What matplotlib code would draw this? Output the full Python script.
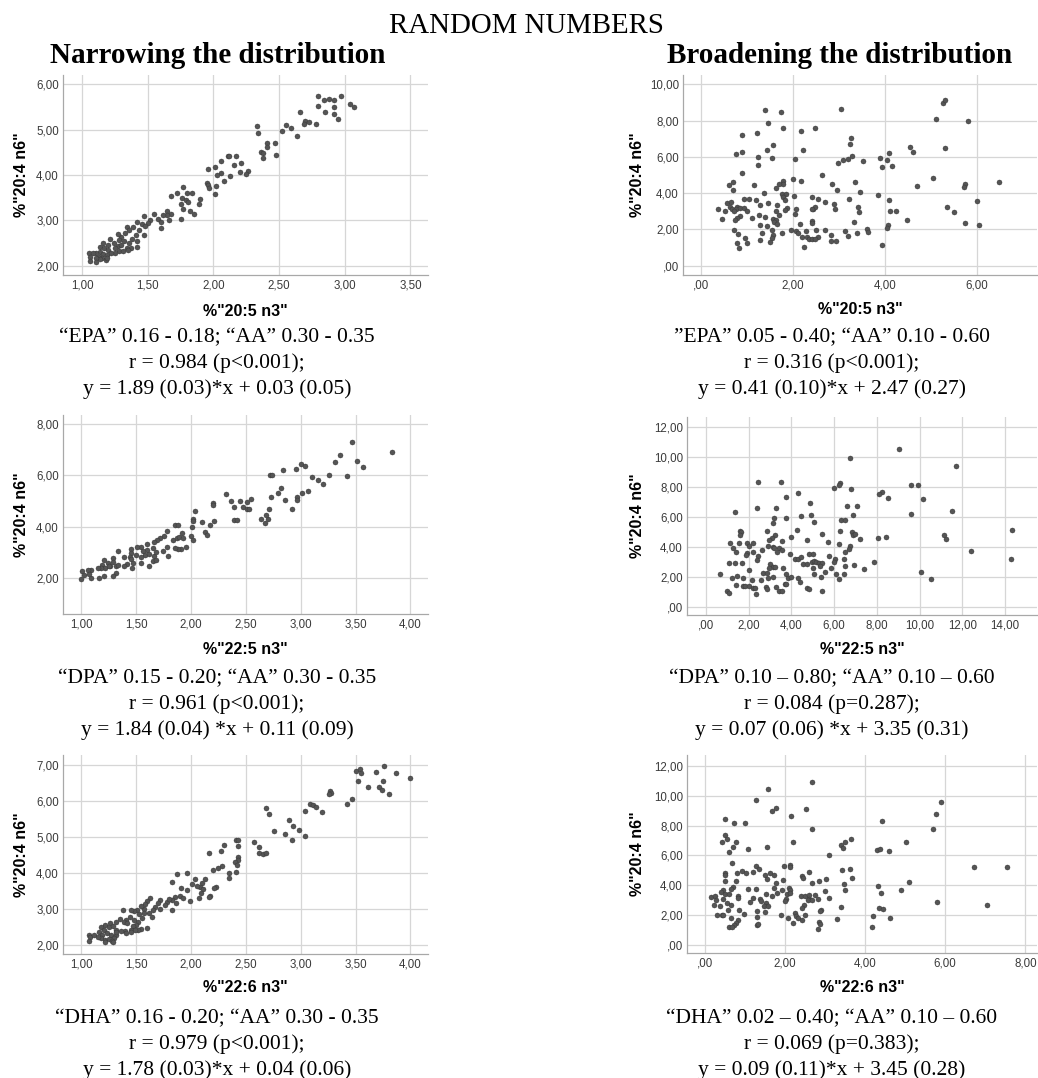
import matplotlib
matplotlib.use('Agg')
import matplotlib.pyplot as plt
from matplotlib.ticker import FuncFormatter

W, H = 1038, 1078

# ---- data, one list of (x, y) points per panel ----
epa_narrow = [
    (2.80, 5.74), (2.97, 5.75), (2.84, 5.65), (2.88, 5.68), (2.92, 5.65), (2.80, 5.53), (2.92, 5.51), (3.04, 5.57),
    (3.07, 5.49), (2.85, 5.38), (2.92, 5.34), (2.95, 5.23), (2.66, 5.39), (2.70, 5.20), (2.73, 5.18), (2.69, 5.13),
    (2.78, 5.13), (2.33, 5.08), (2.34, 4.93), (2.55, 5.10), (2.59, 5.04), (2.52, 4.96), (2.64, 4.85), (2.41, 4.70),
    (2.47, 4.71), (2.41, 4.62), (2.36, 4.51), (2.38, 4.49), (2.38, 4.38), (2.48, 4.44), (2.11, 4.43), (2.12, 4.43),
    (2.17, 4.42), (2.06, 4.30), (2.21, 4.26), (2.16, 4.22), (1.96, 4.13), (2.01, 4.18), (2.20, 4.07), (2.26, 4.08),
    (2.25, 4.02), (2.06, 4.04), (2.03, 3.99), (2.13, 3.98), (2.08, 3.86), (1.95, 3.82), (1.96, 3.77), (2.02, 3.76),
    (1.97, 3.71), (2.01, 3.57), (1.77, 3.73), (1.72, 3.61), (1.68, 3.54), (1.80, 3.61), (1.84, 3.60), (1.76, 3.49),
    (1.79, 3.45), (1.90, 3.47), (1.81, 3.40), (1.75, 3.35), (1.89, 3.36), (1.77, 3.26), (1.82, 3.21), (1.85, 3.15),
    (1.65, 3.21), (1.68, 3.15), (1.65, 3.12), (1.75, 3.03), (1.66, 3.01), (1.62, 3.12), (1.55, 3.15), (1.58, 3.04),
    (1.60, 2.97), (1.60, 2.84), (1.52, 3.01), (1.47, 3.10), (1.50, 2.95), (1.42, 2.97), (1.46, 2.92), (1.48, 2.88),
    (1.39, 2.86), (1.34, 2.86), (1.36, 2.79), (1.43, 2.79), (1.41, 2.68), (1.47, 2.68), (1.38, 2.58), (1.42, 2.55),
    (1.33, 2.71), (1.30, 2.63), (1.27, 2.69), (1.28, 2.57), (1.32, 2.55), (1.36, 2.51), (1.24, 2.49), (1.27, 2.43),
    (1.30, 2.46), (1.34, 2.38), (1.37, 2.38), (1.42, 2.42), (1.25, 2.38), (1.28, 2.33), (1.31, 2.33), (1.35, 2.35),
    (1.21, 2.58), (1.20, 2.46), (1.16, 2.51), (1.14, 2.42), (1.17, 2.38), (1.20, 2.35), (1.25, 2.29), (1.14, 2.31),
    (1.11, 2.27), (1.16, 2.26), (1.19, 2.24), (1.13, 2.20), (1.15, 2.16), (1.18, 2.12), (1.14, 2.14), (1.05, 2.27),
    (1.08, 2.27), (1.06, 2.20), (1.06, 2.11), (1.11, 2.16), (1.19, 2.18), (1.22, 2.27), (1.11, 2.09),
]

epa_broad = [
    (1.39, 8.58), (1.75, 8.49), (3.05, 8.66), (1.46, 7.89), (1.80, 7.61), (2.48, 7.59), (2.18, 7.44), (0.90, 7.21),
    (1.23, 7.33), (5.27, 8.99), (5.32, 9.12), (5.11, 8.11), (5.82, 8.00), (3.26, 7.06), (3.25, 6.73), (1.57, 6.67),
    (1.45, 6.38), (2.23, 6.36), (5.30, 6.47), (4.55, 6.53), (4.61, 6.29), (4.10, 6.23), (0.90, 6.25), (0.76, 6.18),
    (1.24, 5.99), (1.55, 5.92), (2.05, 5.90), (3.29, 6.07), (3.10, 5.85), (3.21, 5.86), (3.90, 5.92), (4.05, 5.85),
    (3.52, 5.77), (2.99, 5.64), (4.15, 5.50), (3.95, 5.42), (1.25, 5.53), (0.90, 5.13), (2.64, 4.98), (5.06, 4.83),
    (2.00, 4.78), (2.18, 4.65), (1.80, 4.67), (1.80, 4.49), (1.70, 4.49), (3.35, 4.61), (2.85, 4.52), (5.74, 4.49),
    (5.72, 4.36), (6.48, 4.60), (4.71, 4.41), (1.17, 4.43), (0.61, 4.43), (0.70, 4.61), (0.70, 4.19), (1.64, 4.26),
    (2.96, 4.19), (3.46, 4.06), (1.37, 4.01), (1.77, 3.95), (1.86, 3.97), (2.02, 3.86), (3.86, 3.92), (2.41, 3.79),
    (2.55, 3.69), (1.79, 3.79), (0.94, 3.69), (1.05, 3.69), (1.84, 3.60), (1.21, 3.62), (3.22, 3.66), (4.10, 3.64),
    (6.00, 3.57), (2.71, 3.49), (0.57, 3.47), (0.67, 3.49), (1.47, 3.46), (2.90, 3.42), (1.28, 3.36), (1.67, 3.35),
    (0.64, 3.25), (3.43, 3.24), (5.35, 3.22), (0.79, 3.24), (0.69, 3.14), (0.76, 3.11), (0.85, 3.20), (0.94, 3.16),
    (1.87, 3.18), (2.44, 3.14), (2.48, 3.25), (2.93, 3.13), (2.41, 3.11), (2.08, 3.13), (0.38, 3.11), (0.53, 3.01),
    (0.72, 3.01), (1.01, 3.00), (1.63, 3.03), (1.84, 3.07), (3.44, 2.98), (4.11, 3.00), (4.25, 3.01), (5.51, 2.94),
    (2.06, 2.83), (0.85, 2.72), (1.26, 2.79), (1.70, 2.79), (1.39, 2.67), (1.11, 2.65), (0.79, 2.61), (0.46, 2.57),
    (0.74, 2.52), (1.58, 2.57), (1.64, 2.52), (4.48, 2.54), (1.60, 2.43), (2.41, 2.46), (2.42, 2.37), (3.33, 2.43),
    (1.66, 2.30), (2.16, 2.30), (5.74, 2.37), (1.29, 2.22), (6.05, 2.26), (1.44, 2.19), (4.08, 2.22), (4.05, 2.06),
    (0.72, 1.95), (1.97, 1.97), (2.07, 1.93), (2.30, 1.93), (2.51, 1.99), (2.70, 1.95), (1.55, 1.97), (3.62, 2.00),
    (3.13, 1.91), (3.64, 1.86), (0.82, 1.73), (1.33, 1.82), (1.77, 1.80), (2.12, 1.78), (3.39, 1.78), (2.21, 1.60),
    (2.31, 1.60), (2.56, 1.58), (2.83, 1.67), (3.21, 1.65), (1.57, 1.69), (2.36, 1.49), (2.41, 1.49), (2.49, 1.49),
    (0.96, 1.53), (1.30, 1.42), (1.55, 1.51), (2.83, 1.34), (2.94, 1.36), (1.51, 1.31), (0.79, 1.25), (1.01, 1.23),
    (0.83, 0.99), (2.25, 1.05), (3.94, 1.12),
]

dpa_narrow = [
    (3.83, 6.90), (3.47, 7.32), (3.36, 6.81), (3.51, 6.55), (3.57, 6.35), (3.31, 6.51), (3.26, 6.03), (3.42, 5.99),
    (3.16, 5.81), (3.20, 5.65), (3.10, 5.96), (2.96, 6.26), (3.00, 6.43), (3.04, 6.38), (2.84, 6.22), (2.72, 6.01),
    (2.74, 6.00), (3.07, 5.40), (3.01, 5.31), (2.97, 5.18), (2.97, 5.03), (2.92, 4.70), (2.86, 5.04), (2.82, 5.51),
    (2.79, 5.31), (2.73, 5.18), (2.71, 4.70), (2.70, 4.30), (2.68, 4.47), (2.67, 4.14), (2.64, 4.32), (2.32, 5.29),
    (2.36, 5.01), (2.45, 5.01), (2.51, 4.96), (2.55, 5.09), (2.39, 4.79), (2.47, 4.77), (2.51, 4.69), (2.53, 4.69),
    (2.39, 4.25), (2.42, 4.27), (2.20, 4.92), (2.20, 4.84), (2.04, 4.60), (2.02, 4.30), (2.02, 4.23), (2.10, 4.17),
    (2.21, 4.21), (2.17, 4.05), (2.01, 3.99), (2.13, 3.78), (2.15, 3.66), (2.00, 3.65), (2.02, 3.49), (1.85, 4.05),
    (1.88, 4.05), (1.78, 3.84), (1.75, 3.65), (1.72, 3.56), (1.69, 3.49), (1.84, 3.49), (1.87, 3.56), (1.89, 3.62),
    (1.92, 3.75), (1.93, 3.56), (1.95, 3.23), (1.91, 3.13), (1.88, 3.13), (1.85, 3.19), (1.78, 3.23), (1.79, 2.87),
    (1.74, 3.04), (1.66, 3.39), (1.65, 3.17), (1.60, 3.34), (1.60, 3.10), (1.54, 3.23), (1.51, 3.21), (1.56, 3.04),
    (1.58, 2.91), (1.62, 2.94), (1.66, 2.87), (1.68, 3.00), (1.62, 2.45), (1.65, 2.65), (1.68, 2.71), (1.54, 2.82),
    (1.50, 2.91), (1.54, 2.58), (1.45, 3.13), (1.45, 2.97), (1.44, 2.84), (1.45, 2.74), (1.47, 2.58), (1.46, 2.39),
    (1.42, 2.55), (1.39, 2.84), (1.39, 2.45), (1.33, 3.04), (1.29, 2.78), (1.29, 2.61), (1.32, 2.45), (1.33, 2.52),
    (1.26, 2.45), (1.21, 2.69), (1.19, 2.52), (1.22, 2.39), (1.24, 2.58), (1.32, 2.19), (1.29, 2.06), (1.18, 2.39),
    (1.15, 2.39), (1.21, 2.06), (1.16, 2.00), (1.09, 2.30), (1.06, 2.32), (1.09, 2.00), (1.01, 2.26), (1.02, 2.13),
    (1.00, 1.96), (1.07, 2.16), (1.25, 2.48),
]

dpa_broad = [
    (9.03, 10.54), (6.72, 9.90), (11.69, 9.41), (2.45, 8.32), (3.49, 8.32), (6.29, 8.28), (6.22, 8.15), (6.01, 7.95),
    (6.78, 7.84), (9.61, 8.12), (9.92, 8.17), (8.24, 7.68), (8.08, 7.57), (8.52, 7.24), (10.17, 7.22), (4.33, 7.62),
    (3.74, 7.37), (4.86, 6.97), (2.38, 6.62), (3.29, 6.58), (6.61, 6.77), (7.06, 6.73), (1.37, 6.31), (11.49, 6.44),
    (9.61, 6.18), (4.44, 6.09), (4.93, 6.13), (6.88, 6.13), (3.20, 5.93), (3.74, 5.93), (6.30, 5.78), (6.52, 5.80),
    (5.06, 5.67), (3.12, 5.58), (2.84, 5.11), (4.28, 5.16), (1.58, 5.09), (1.64, 4.98), (1.58, 4.80), (3.24, 4.80),
    (5.45, 4.91), (6.29, 5.05), (6.83, 4.98), (6.89, 4.78), (6.98, 4.91), (11.13, 4.83), (11.22, 4.52), (14.34, 5.16),
    (8.04, 4.58), (8.44, 4.65), (7.19, 4.52), (4.00, 4.69), (3.09, 4.61), (2.97, 4.47), (4.72, 4.47), (5.70, 4.34),
    (3.55, 4.38), (1.13, 4.25), (1.57, 4.25), (1.91, 4.25), (2.22, 4.25), (2.02, 4.10), (1.29, 3.92), (3.15, 4.03),
    (3.40, 3.96), (6.22, 4.21), (6.72, 4.07), (6.69, 3.85), (2.92, 4.10), (1.40, 3.65), (1.91, 3.59), (1.89, 3.48),
    (2.19, 3.70), (2.45, 3.41), (2.64, 3.81), (3.20, 3.92), (3.31, 3.70), (3.54, 3.81), (6.49, 3.65), (12.40, 3.76),
    (2.40, 3.14), (3.94, 3.54), (4.83, 3.52), (5.01, 3.54), (5.74, 3.41), (6.04, 3.23), (14.29, 3.23), (4.18, 3.23),
    (4.33, 3.21), (4.47, 3.32), (1.10, 2.92), (1.38, 2.97), (1.68, 2.92), (4.52, 2.86), (4.73, 2.88), (4.95, 3.03),
    (5.06, 3.06), (5.17, 3.01), (5.29, 2.92), (5.45, 2.97), (6.01, 2.99), (6.47, 3.19), (7.85, 2.99), (3.00, 2.86),
    (3.12, 2.70), (3.23, 2.70), (2.95, 2.59), (3.62, 2.63), (5.35, 2.75), (5.87, 2.59), (6.52, 2.75), (6.92, 2.81),
    (7.40, 2.57), (5.01, 2.59), (2.00, 2.48), (2.69, 2.30), (2.87, 2.26), (5.56, 2.35), (0.67, 2.19), (1.47, 2.10),
    (5.06, 2.19), (6.10, 2.21), (6.47, 2.21), (10.06, 2.37), (1.20, 1.95), (1.74, 1.93), (2.14, 1.84), (2.59, 1.79),
    (2.92, 1.93), (3.15, 1.99), (3.77, 2.21), (3.86, 1.93), (3.96, 1.99), (4.30, 1.93), (4.39, 1.70), (5.40, 2.01),
    (6.22, 1.88), (10.51, 1.88), (1.40, 1.48), (1.74, 1.44), (1.83, 1.44), (2.00, 1.44), (3.69, 1.55), (3.77, 1.57),
    (3.26, 1.37), (2.81, 1.33), (2.84, 1.20), (2.19, 1.26), (2.30, 1.26), (3.43, 1.08), (3.54, 1.11), (4.73, 1.31),
    (4.80, 1.20), (5.42, 1.08), (0.98, 1.11), (1.09, 0.97), (2.34, 0.89),
]

dha_narrow = [
    (3.76, 6.98), (3.50, 6.83), (3.54, 6.90), (3.55, 6.77), (3.69, 6.80), (3.87, 6.79), (4.00, 6.65), (3.52, 6.55),
    (3.75, 6.56), (3.61, 6.38), (3.71, 6.39), (3.74, 6.30), (3.80, 6.21), (3.27, 6.29), (3.28, 6.22), (3.26, 6.19),
    (3.47, 6.07), (3.42, 5.93), (3.08, 5.92), (3.11, 5.90), (3.14, 5.85), (3.04, 5.72), (3.19, 5.70), (2.68, 5.81),
    (2.71, 5.63), (2.89, 5.48), (2.93, 5.32), (2.98, 5.20), (2.76, 5.16), (2.86, 5.09), (3.04, 5.04), (2.92, 4.91),
    (2.41, 4.92), (2.43, 4.91), (2.57, 4.88), (2.62, 4.73), (2.62, 4.56), (2.66, 4.53), (2.68, 4.57), (2.43, 4.76),
    (2.30, 4.79), (2.27, 4.62), (2.16, 4.56), (2.43, 4.44), (2.43, 4.37), (2.40, 4.31), (2.42, 4.23), (2.41, 4.03),
    (2.28, 4.19), (2.25, 4.14), (2.20, 4.09), (2.35, 4.00), (2.35, 3.88), (1.96, 4.00), (1.87, 3.99), (1.83, 3.77),
    (2.13, 3.85), (2.04, 3.85), (2.10, 3.74), (2.01, 3.71), (2.08, 3.63), (2.05, 3.66), (2.23, 3.63), (2.21, 3.58),
    (2.11, 3.57), (1.91, 3.59), (1.96, 3.54), (2.09, 3.45), (2.07, 3.31), (2.17, 3.37), (2.16, 3.33), (1.90, 3.38),
    (1.93, 3.31), (1.99, 3.22), (1.85, 3.34), (1.86, 3.17), (1.83, 3.26), (1.78, 3.21), (1.80, 3.29), (1.83, 2.97),
    (1.76, 3.13), (1.72, 3.26), (1.70, 3.17), (1.72, 3.01), (1.67, 3.06), (1.63, 3.31), (1.60, 3.22), (1.58, 3.15),
    (1.65, 2.99), (1.62, 2.89), (1.64, 2.80), (1.57, 3.01), (1.57, 2.89), (1.54, 3.10), (1.51, 2.99), (1.48, 2.94),
    (1.53, 2.87), (1.55, 2.76), (1.60, 2.48), (1.54, 2.45), (1.52, 2.43), (1.45, 2.97), (1.38, 2.97), (1.41, 2.71),
    (1.44, 2.80), (1.48, 2.71), (1.52, 2.66), (1.50, 2.57), (1.47, 2.53), (1.35, 2.73), (1.32, 2.66), (1.39, 2.64),
    (1.42, 2.62), (1.45, 2.43), (1.49, 2.42), (1.40, 2.39), (1.36, 2.41), (1.41, 2.34), (1.45, 2.37), (1.26, 2.62),
    (1.22, 2.57), (1.25, 2.50), (1.29, 2.53), (1.32, 2.43), (1.18, 2.50), (1.21, 2.43), (1.16, 2.37), (1.19, 2.30),
    (1.23, 2.34), (1.27, 2.30), (1.32, 2.30), (1.18, 2.20), (1.22, 2.16), (1.25, 2.18), (1.30, 2.20), (1.28, 2.13),
    (1.29, 2.08), (1.22, 2.09), (1.07, 2.30), (1.08, 2.23), (1.07, 2.13), (1.12, 2.30), (1.15, 2.23), (1.32, 2.37),
]

dha_broad = [
    (2.67, 10.93), (1.58, 10.42), (1.27, 9.71), (1.77, 9.16), (1.67, 9.00), (2.54, 9.11), (5.90, 9.60), (5.76, 8.76),
    (5.69, 7.80), (4.42, 8.31), (2.16, 8.64), (0.52, 8.47), (0.73, 8.20), (1.00, 8.20), (2.69, 7.76), (0.51, 7.40),
    (0.57, 7.13), (0.43, 6.91), (0.79, 6.93), (2.20, 6.89), (5.02, 6.93), (3.66, 7.07), (3.50, 6.93), (3.41, 6.69),
    (3.44, 6.53), (1.55, 6.60), (0.70, 6.58), (1.07, 6.44), (4.30, 6.38), (4.38, 6.42), (4.59, 6.31), (0.61, 6.22),
    (3.09, 6.04), (0.68, 5.47), (1.27, 5.27), (1.36, 5.13), (1.99, 5.27), (2.14, 5.36), (2.14, 5.20), (0.92, 4.98),
    (1.20, 4.89), (0.80, 4.80), (1.04, 4.82), (0.51, 4.80), (0.52, 4.69), (1.62, 4.84), (1.51, 4.73), (1.72, 4.71),
    (2.60, 4.87), (2.43, 4.64), (2.45, 4.49), (3.42, 5.04), (3.63, 5.07), (3.67, 4.53), (3.03, 4.44), (1.55, 4.44),
    (0.52, 4.27), (0.79, 4.27), (1.96, 4.38), (2.84, 4.31), (2.67, 4.16), (1.79, 4.18), (3.48, 4.13), (5.09, 4.22),
    (4.32, 3.98), (6.72, 5.22), (7.55, 5.20), (0.70, 3.93), (0.66, 3.78), (1.08, 3.76), (1.29, 3.78), (1.74, 3.82),
    (2.10, 3.80), (2.12, 3.71), (1.92, 3.67), (3.00, 3.64), (3.49, 3.67), (4.90, 3.71), (0.46, 3.67), (0.41, 3.56),
    (0.52, 3.42), (0.61, 3.42), (1.52, 3.44), (1.81, 3.49), (2.06, 3.44), (2.13, 3.49), (1.67, 3.31), (2.41, 3.27),
    (2.50, 3.31), (2.60, 3.36), (2.76, 3.38), (4.40, 3.49), (0.17, 3.20), (0.27, 3.27), (0.84, 3.27), (0.83, 3.16),
    (1.20, 3.16), (1.37, 3.11), (2.03, 3.09), (2.61, 3.11), (2.82, 3.09), (3.09, 3.13), (0.46, 3.09), (0.29, 3.04),
    (1.41, 2.98), (2.01, 2.98), (2.58, 3.00), (2.68, 3.04), (1.12, 2.89), (1.53, 2.82), (5.80, 2.91), (0.56, 2.80),
    (0.66, 2.67), (0.23, 2.67), (0.38, 2.64), (1.48, 2.64), (1.57, 2.60), (2.47, 2.69), (7.05, 2.67), (3.40, 2.56),
    (2.42, 2.51), (4.36, 2.49), (4.44, 2.40), (0.59, 2.33), (0.85, 2.33), (2.90, 2.36), (2.88, 2.31), (1.31, 2.27),
    (1.51, 2.20), (0.98, 2.09), (2.26, 2.13), (0.30, 2.00), (0.44, 2.02), (0.47, 2.00), (1.91, 2.00), (2.50, 2.04),
    (2.29, 1.98), (4.20, 1.96), (1.30, 1.89), (0.65, 1.80), (2.08, 1.80), (2.33, 1.84), (2.44, 1.71), (3.30, 1.78),
    (4.63, 1.80), (0.83, 1.67), (0.79, 1.49), (2.20, 1.51), (2.84, 1.56), (2.88, 1.44), (0.74, 1.38), (0.61, 1.22),
    (0.67, 1.22), (1.31, 1.33), (1.33, 1.42), (4.17, 1.22), (2.83, 1.09),
]

x_labels = ['%"20:5 n3"', '%"20:5 n3"', '%"22:5 n3"', '%"22:5 n3"', '%"22:6 n3"', '%"22:6 n3"']
y_label = '%"20:4 n6"'

x_ticks = [[1.0, 1.5, 2.0, 2.5, 3.0, 3.5], [0, 2, 4, 6],
           [1.0, 1.5, 2.0, 2.5, 3.0, 3.5, 4.0], [0, 2, 4, 6, 8, 10, 12, 14],
           [1.0, 1.5, 2.0, 2.5, 3.0, 3.5, 4.0], [0, 2, 4, 6, 8]]
y_ticks = [[2, 3, 4, 5, 6], [0, 2, 4, 6, 8, 10],
           [2, 4, 6, 8], [0, 2, 4, 6, 8, 10, 12],
           [2, 3, 4, 5, 6, 7], [0, 2, 4, 6, 8, 10, 12]]

captions = [
    ['\u201cEPA\u201d 0.16 - 0.18; \u201cAA\u201d 0.30 - 0.35', 'r = 0.984 (p<0.001);', 'y = 1.89 (0.03)*x + 0.03 (0.05)'],
    ['\u201dEPA\u201d 0.05 - 0.40; \u201cAA\u201d 0.10 - 0.60', 'r = 0.316 (p<0.001);', 'y = 0.41 (0.10)*x + 2.47 (0.27)'],
    ['\u201cDPA\u201d 0.15 - 0.20; \u201cAA\u201d 0.30 - 0.35', 'r = 0.961 (p<0.001);', 'y = 1.84 (0.04) *x + 0.11 (0.09)'],
    ['\u201cDPA\u201d 0.10 \u2013 0.80; \u201cAA\u201d 0.10 \u2013 0.60', 'r = 0.084 (p=0.287);', 'y = 0.07 (0.06) *x + 3.35 (0.31)'],
    ['\u201cDHA\u201d 0.16 - 0.20; \u201cAA\u201d 0.30 - 0.35', 'r = 0.979 (p<0.001);', 'y = 1.78 (0.03)*x + 0.04 (0.06)'],
    ['\u201cDHA\u201d 0.02 \u2013 0.40; \u201cAA\u201d 0.10 \u2013 0.60', 'r = 0.069 (p=0.383);', 'y = 0.09 (0.11)*x + 3.45 (0.28)'],
]

panels = [epa_narrow, epa_broad, dpa_narrow, dpa_broad, dha_narrow, dha_broad]

# layout in pixels: (left, top, right, bottom) and axis limits
boxes = [(63, 75, 428, 275), (683, 75, 1037, 275),
         (63, 415, 428, 614), (687, 417, 1037, 615),
         (63, 755, 428, 954), (687, 755, 1037, 953)]
xlims = [(0.855, 3.634), (-0.383, 7.31), (0.833, 4.16), (-0.885, 15.49), (0.833, 4.16), (-0.44, 8.29)]
ylims = [(1.794, 6.206), (-0.515, 10.51), (0.597, 8.36), (-0.51, 12.66), (1.76, 7.28), (-0.51, 12.71)]
xlabel_y = [312, 310, 650, 650, 988, 988]
caption_base = [342, 342, 683, 683, 1023, 1023]
caption_x = [217, 832]

SERIF = 'Liberation Serif'
SANS = 'Liberation Sans'


def fx(px):
    return px / W


def fy(py):
    return 1 - py / H


def comma(v, pos=None):
    s = f"{v:.2f}".replace('.', ',')
    if s.startswith('0,'):
        s = s[1:]
    return s


fig = plt.figure(figsize=(W / 100, H / 100), dpi=100)

fig.text(fx(526), fy(33), 'RANDOM NUMBERS', ha='center', va='baseline', family=SERIF, fontsize=20.8)
fig.text(fx(218), fy(63), 'Narrowing the distribution', ha='center', va='baseline', family=SERIF,
         fontsize=21, fontweight='bold')
fig.text(fx(840), fy(63), 'Broadening the distribution', ha='center', va='baseline', family=SERIF,
         fontsize=21, fontweight='bold')

for i, pts in enumerate(panels):
    l, t, r, b = boxes[i]
    ax = fig.add_axes([fx(l), fy(b), (r - l) / W, (b - t) / H])
    xs = [p[0] for p in pts]
    ys = [p[1] for p in pts]
    ax.scatter(xs, ys, s=13, c='#555555', edgecolors='#333333', linewidths=0.3, zorder=3)
    ax.set_xlim(*xlims[i])
    ax.set_ylim(*ylims[i])
    ax.set_xticks(x_ticks[i])
    ax.set_yticks(y_ticks[i])
    ax.xaxis.set_major_formatter(FuncFormatter(comma))
    ax.yaxis.set_major_formatter(FuncFormatter(comma))
    ax.grid(True, color='#d6d6d6', lw=0.9)
    ax.set_axisbelow(True)
    for s in ['top', 'right']:
        ax.spines[s].set_visible(False)
    for s in ['left', 'bottom']:
        ax.spines[s].set_color('#a8a8a8')
        ax.spines[s].set_linewidth(0.9)
    ax.tick_params(length=0, labelsize=8.3, labelcolor='#3a3a3a', pad=3)
    for lab in ax.get_xticklabels() + ax.get_yticklabels():
        lab.set_family(SANS)

    cx = (l + r) / 2
    fig.text(fx(cx), fy(xlabel_y[i]), x_labels[i], ha='center', va='center', family=SANS,
             fontsize=11.5, fontweight='bold')
    ylx = 22 if i % 2 == 0 else 637
    fig.text(fx(ylx), fy((t + b) / 2), y_label, ha='center', va='center', rotation=90, family=SANS,
             fontsize=11.5, fontweight='bold')

    for k, line in enumerate(captions[i]):
        fig.text(fx(caption_x[i % 2]), fy(caption_base[i] + 26 * k), line, ha='center', va='baseline',
                 family=SERIF, fontsize=15.5)

fig.savefig('out.png', dpi=100, facecolor='white')
